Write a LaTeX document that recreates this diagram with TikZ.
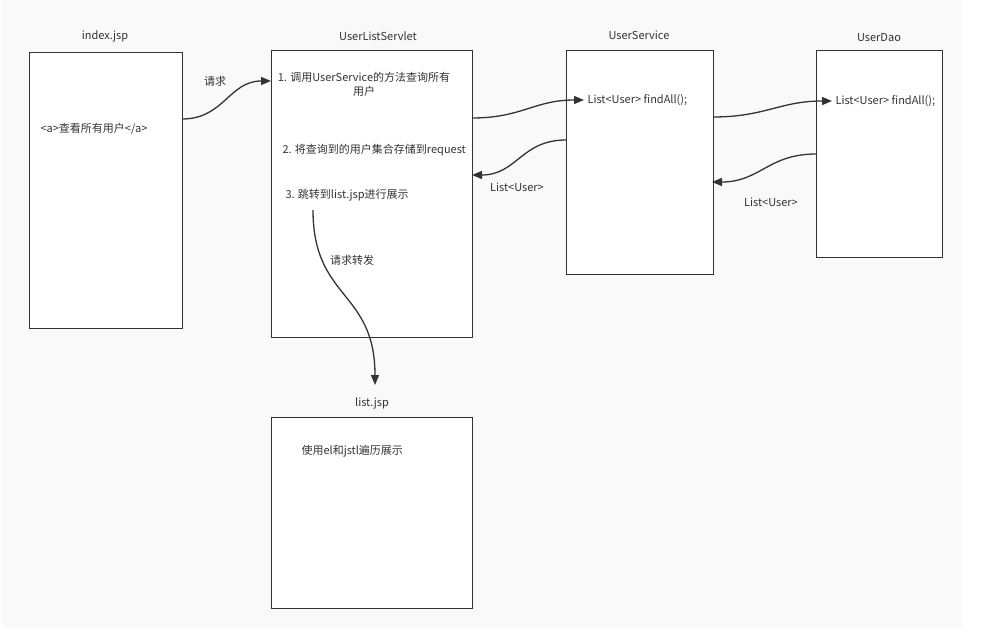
\documentclass[tikz,border=0pt]{standalone}
\usepackage{fontspec}
\setmainfont{Noto Sans CJK SC}
\usepackage{xcolor}
\usepackage{tikz}
\usetikzlibrary{arrows.meta, positioning}
\definecolor{ink}{HTML}{333333}
\definecolor{paper}{HTML}{F9F9F9}

\begin{document}
\begin{tikzpicture}[x=1pt, y=-1pt,
  every node/.style={font=\fontsize{11}{14}\selectfont, text=ink},
  box/.style={draw=ink, line width=1.4pt, fill=white, anchor=north west, inner sep=0pt},
  flow/.style={draw=ink, line width=1.3pt, -{Triangle[length=10pt, width=8pt]}}]
\useasboundingbox (0,0) rectangle (992,637);
\fill[paper] (2,0) rectangle (962,628);
% Boxes (pixel coordinates, y downward)
\node[box, minimum width=153pt, minimum height=276pt] (index) at (29,52) {};
\node[box, minimum width=201pt, minimum height=287pt] (servlet) at (271,50) {};
\node[box, minimum width=147pt, minimum height=224pt] (service) at (566,50) {};
\node[box, minimum width=126pt, minimum height=207pt] (dao) at (816,50) {};
\node[box, minimum width=201pt, minimum height=191pt] (listjsp) at (271,417) {};
% Titles
\node (indexlbl) at (105,36) {index.jsp};
\node (servletlbl) at (378,36) {UserListServlet};
\node (servicelbl) at (639,35) {UserService};
\node (daolbl) at (879,38) {UserDao};
\node (listlbl) at (372,403) {list.jsp};
% Box contents
\node[anchor=west] (ahref) at (37,129) {<a>查看所有用户</a>};
\node[align=center] (step1) at (364,84) {1. 调用UserService的方法查询所有\\用户};
\node[anchor=west] (step2) at (279,150) {2. 将查询到的用户集合存储到request};
\node[anchor=west] (step3) at (282,195) {3. 跳转到list.jsp进行展示};
\node[anchor=west] (svcfind) at (584,100) {List<User> findAll();};
\node[anchor=west] (daofind) at (832,101) {List<User> findAll();};
\node[anchor=west] (show) at (298,451) {使用el和jstl遍历展示};
% Arrow labels
\node (reqlbl) at (215,81) {请求};
\node (fwdlbl) at (352,260) {请求转发};
\node (ret1) at (517,187) {List<User>};
\node (ret2) at (771,202) {List<User>};
% Connector ends on box edges
\coordinate (idxout) at (182,119);
\coordinate (srvin) at (271,81);
\coordinate (srvout) at (472,118);
\coordinate (svcret) at (566,140);
\coordinate (srvret) at (472,175);
\coordinate (svcout) at (713,117);
\coordinate (daoret) at (816,154);
\coordinate (svcin) at (712,182);
\coordinate (fwd) at (313,210);
\coordinate (fwdend) at (375,385);
% Calls and returns
\draw[flow] (idxout) .. controls +(42,0) and +(-42,0) .. (srvin);
\draw[flow] (srvout) .. controls +(50,0) and +(-50,0) .. (svcfind.west);
\draw[flow] (svcret) .. controls +(-45,0) and +(45,0) .. (srvret);
\draw[flow] (svcout) .. controls +(52,0) and +(-52,0) .. (daofind.west);
\draw[flow] (daoret) .. controls +(-48,0) and +(48,0) .. (svcin);
\draw[flow] (fwd) .. controls +(0,90) and +(0,-95) .. (fwdend);
\end{tikzpicture}
\end{document}
